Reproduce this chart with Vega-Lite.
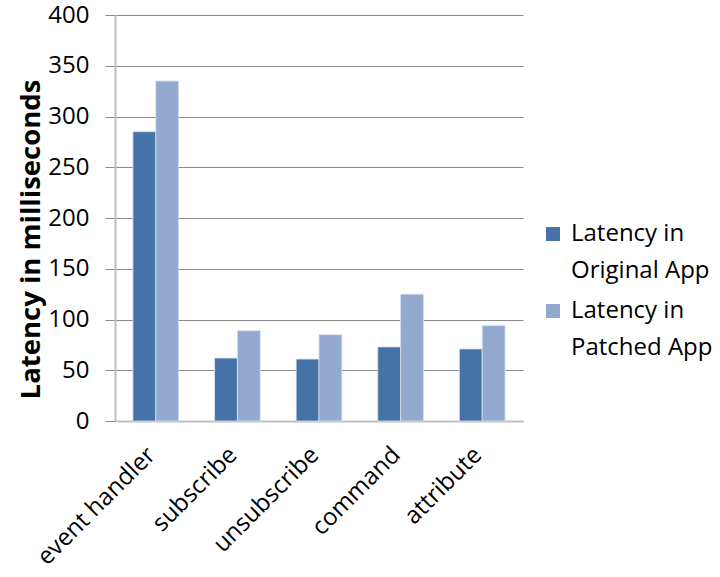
{
  "$schema": "https://vega.github.io/schema/vega-lite/v6.json",
  "autosize": "none",
  "width": 408,
  "height": 406,
  "padding": {"left": 115, "top": 15, "right": 197, "bottom": 156},
  "background": "white",
  "config": {
    "font": "Open Sans",
    "view": {"stroke": null},
    "style": {"guide-label": {"lineHeight": 37}}
  },
  "data": {
    "values": [
      {"op": "event handler", "series": "Latency in\nOriginal App", "ms": 285},
      {"op": "event handler", "series": "Latency in\nPatched App", "ms": 335},
      {"op": "subscribe", "series": "Latency in\nOriginal App", "ms": 62},
      {"op": "subscribe", "series": "Latency in\nPatched App", "ms": 89},
      {"op": "unsubscribe", "series": "Latency in\nOriginal App", "ms": 61},
      {"op": "unsubscribe", "series": "Latency in\nPatched App", "ms": 85},
      {"op": "command", "series": "Latency in\nOriginal App", "ms": 73},
      {"op": "command", "series": "Latency in\nPatched App", "ms": 125},
      {"op": "attribute", "series": "Latency in\nOriginal App", "ms": 71},
      {"op": "attribute", "series": "Latency in\nPatched App", "ms": 94}
    ]
  },
  "mark": {"type": "bar", "stroke": "#d9e1ee", "strokeWidth": 0.8},
  "encoding": {
    "x": {
      "field": "op",
      "type": "nominal",
      "sort": ["event handler", "subscribe", "unsubscribe", "command", "attribute"],
      "scale": {"paddingInner": 0.44, "paddingOuter": 0.22},
      "axis": {
        "title": null,
        "labelAngle": -45,
        "labelAlign": "right",
        "labelBaseline": "middle",
        "labelFontSize": 24,
        "labelColor": "#000",
        "labelPadding": 30,
        "labelOffset": -4,
        "ticks": false,
        "domainColor": "#c0c0c0",
        "domainWidth": 2
      }
    },
    "xOffset": {
      "field": "series",
      "type": "nominal",
      "scale": {"paddingInner": 0, "paddingOuter": 0}
    },
    "y": {
      "field": "ms",
      "type": "quantitative",
      "scale": {"domain": [0, 400], "nice": false},
      "axis": {
        "title": "Latency  in milliseconds",
        "titleFontSize": 27.5,
        "titleFontWeight": "bold",
        "titleColor": "#000",
        "titlePadding": 2,
        "titleY": 224,
        "values": [0, 50, 100, 150, 200, 250, 300, 350, 400],
        "labelFontSize": 24,
        "labelColor": "#000",
        "labelPadding": 16,
        "tickSize": 10,
        "tickColor": "#8a8a8a",
        "domainColor": "#c0c0c0",
        "domainWidth": 2,
        "grid": true,
        "gridColor": "#8a8a8a",
        "gridWidth": 1.2
      }
    },
    "color": {
      "field": "series",
      "type": "nominal",
      "scale": {
        "domain": ["Latency in\nOriginal App", "Latency in\nPatched App"],
        "range": ["#4572a7", "#93a9cf"]
      },
      "legend": {
        "title": null,
        "orient": "none",
        "legendX": 426,
        "legendY": 207,
        "symbolType": "square",
        "symbolSize": 196,
        "symbolStrokeWidth": 0,
        "labelFontSize": 24,
        "labelColor": "#000",
        "labelLimit": 300,
        "labelOffset": 6,
        "rowPadding": 16,
        "labelExpr": "split(datum.label, '\\n')",
        "encode": {
          "labels": {"update": {"lineHeight": {"value": 37}, "dy": {"value": 18}}}
        }
      }
    }
  }
}
